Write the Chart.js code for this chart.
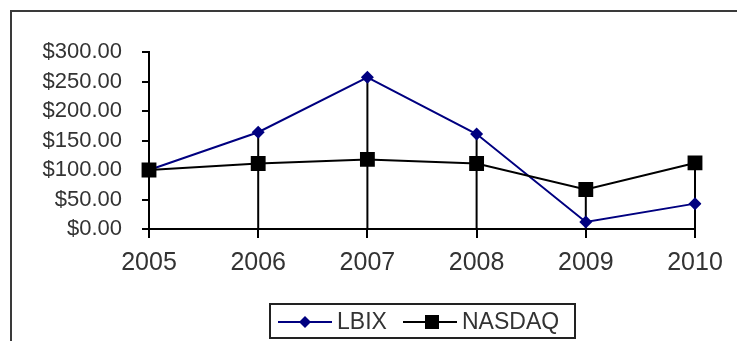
<!DOCTYPE html>
<html>
<head>
<meta charset="utf-8">
<script src="https://cdn.jsdelivr.net/npm/chart.js@4/dist/chart.umd.min.js"></script>
<style>
  html, body { margin: 0; padding: 0; background: #fff; }
  #wrap { position: relative; width: 737px; height: 341px; }
</style>
</head>
<body>
<div id="wrap"><canvas id="c" width="737" height="341"></canvas></div>
<script>
const years = ['2005', '2006', '2007', '2008', '2009', '2010'];
const lbix = [100, 164, 257, 161, 12, 43];
const nasdaq = [100, 111, 118, 111, 67, 112];
const yTickValues = [0, 50, 100, 150, 200, 250, 300];
const yTickLabels = ['$0.00', '$50.00', '$100.00', '$150.00', '$200.00', '$250.00', '$300.00'];

const FONT = "'Liberation Sans', Arial, sans-serif";

const frameAndExtras = {
  id: 'frameAndExtras',
  beforeDraw(chart) {
    const ctx = chart.ctx;
    ctx.save();
    ctx.strokeStyle = '#3a3a3a';
    ctx.lineWidth = 2;
    ctx.beginPath();
    ctx.moveTo(11, 345);
    ctx.lineTo(11, 11);
    ctx.lineTo(740, 11);
    ctx.stroke();
    ctx.restore();
  },
  beforeDatasetsDraw(chart) {
    // drop lines from the highest point at each category to the x axis
    const ctx = chart.ctx;
    const x = chart.scales.x, y = chart.scales.y;
    ctx.save();
    ctx.strokeStyle = '#000';
    ctx.lineWidth = 2;
    years.forEach((yr, i) => {
      const top = Math.max(lbix[i], nasdaq[i]);
      const px = x.getPixelForValue(i);
      ctx.beginPath();
      ctx.moveTo(px, y.getPixelForValue(top));
      ctx.lineTo(px, y.getPixelForValue(0));
      ctx.stroke();
    });
    ctx.restore();
  },
  afterDraw(chart) {
    const ctx = chart.ctx;
    ctx.save();
    // legend box
    ctx.strokeStyle = '#222';
    ctx.lineWidth = 2;
    ctx.strokeRect(270, 304, 305, 34);
    const cy = 322;
    ctx.font = '23px ' + FONT;
    ctx.textBaseline = 'middle';
    // LBIX
    ctx.strokeStyle = '#000080';
    ctx.lineWidth = 2;
    ctx.beginPath(); ctx.moveTo(278, cy); ctx.lineTo(332, cy); ctx.stroke();
    ctx.fillStyle = '#000080';
    ctx.beginPath();
    ctx.moveTo(305 - 6, cy); ctx.lineTo(305, cy - 6); ctx.lineTo(305 + 6, cy); ctx.lineTo(305, cy + 6); ctx.closePath();
    ctx.fill();
    ctx.fillStyle = '#333';
    ctx.fillText(chart.data.datasets[0].label, 337, cy + 1);
    // NASDAQ
    ctx.strokeStyle = '#000';
    ctx.beginPath(); ctx.moveTo(403, cy); ctx.lineTo(457, cy); ctx.stroke();
    ctx.fillStyle = '#000';
    ctx.fillRect(432 - 7, cy - 7, 14, 14);
    ctx.fillStyle = '#333';
    ctx.fillText(chart.data.datasets[1].label, 462, cy + 1);
    ctx.restore();
  }
};

new Chart(document.getElementById('c'), {
  type: 'line',
  data: {
    labels: years,
    datasets: [
      {
        label: 'LBIX',
        data: lbix,
        borderColor: '#000080',
        backgroundColor: '#000080',
        borderWidth: 2,
        pointStyle: 'rectRot',
        pointRadius: 6.5,
        pointBorderWidth: 0,
        tension: 0,
        order: 1
      },
      {
        label: 'NASDAQ',
        data: nasdaq,
        borderColor: '#000',
        backgroundColor: '#000',
        borderWidth: 2,
        pointStyle: 'rect',
        pointRadius: 10.5,
        pointBorderWidth: 0,
        tension: 0,
        order: 0
      }
    ]
  },
  options: {
    responsive: false,
    animation: false,
    devicePixelRatio: 1,
    layout: { padding: { left: 0, right: 42, top: 52, bottom: 60 } },
    plugins: { legend: { display: false }, tooltip: { enabled: false } },
    scales: {
      x: {
        offset: false,
        grid: { drawOnChartArea: false, drawTicks: true, tickLength: 9, color: '#000', lineWidth: 2 },
        border: { display: true, color: '#000', width: 2 },
        ticks: { font: { family: FONT, size: 25 }, color: '#333', padding: 10, maxRotation: 0 },
        afterFit(s) { s.height = 52; }
      },
      y: {
        min: 0, max: 300,
        afterBuildTicks(s) { s.ticks = yTickValues.map(v => ({ value: v })); },
        grid: { drawOnChartArea: false, drawTicks: true, tickLength: 7, color: '#000', lineWidth: 2 },
        border: { display: true, color: '#000', width: 2 },
        ticks: {
          font: { family: FONT, size: 22 }, color: '#333', padding: 20,
          callback: (v) => yTickLabels[yTickValues.indexOf(v)]
        },
        afterFit(s) { s.width = 149; }
      }
    }
  },
  plugins: [frameAndExtras]
});
</script>
</body>
</html>
